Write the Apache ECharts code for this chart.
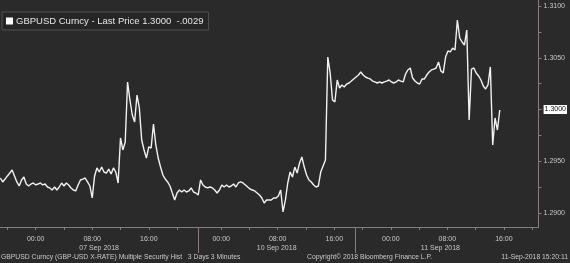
<!DOCTYPE html>
<html><head><meta charset="utf-8">
<script src="https://cdn.jsdelivr.net/npm/echarts@6/dist/echarts.min.js"></script>
<style>html,body{margin:0;padding:0;background:#2a2a2a;}#c{width:570px;height:263px;}</style>
</head><body><div id="c"></div>
<script>
// Compressed trading-hours timeline: 0 = 07 Sep 2018 00:00 (weekend removed)
const startHour = -5;          // 06 Sep 19:00
const stepHours = 1 / 3;       // one value per 20 minutes
const prices = [
1.29338,1.29300,1.29328,1.29358,1.29386,1.29415,1.29358,1.29300,1.29261,1.29319,
1.29348,1.29280,1.29261,1.29280,1.29290,1.29271,1.29280,1.29290,1.29271,1.29280,
1.29251,1.29242,1.29222,1.29251,1.29222,1.29251,1.29290,1.29261,1.29290,1.29271,
1.29242,1.29222,1.29213,1.29271,1.29319,1.29328,1.29338,1.29300,1.29261,1.29145,
1.29358,1.29435,1.29396,1.29444,1.29396,1.29386,1.29425,1.29377,1.29435,1.29396,
1.29290,1.29725,1.29609,1.29686,1.30266,1.30092,1.29947,1.29879,1.30140,1.30015,
1.29705,1.29609,1.29531,1.29638,1.29628,1.29860,1.29657,1.29531,1.29444,1.29367,
1.29328,1.29300,1.29261,1.29193,1.29126,1.29193,1.29222,1.29203,1.29222,1.29203,
1.29213,1.29242,1.29203,1.29193,1.29174,1.29319,1.29271,1.29251,1.29242,1.29251,
1.29242,1.29222,1.29193,1.29222,1.29271,1.29251,1.29271,1.29251,1.29261,1.29280,
1.29251,1.29290,1.29300,1.29290,1.29271,1.29251,1.29232,1.29222,1.29213,1.29193,
1.29174,1.29145,1.29097,1.29126,1.29126,1.29126,1.29145,1.29145,1.29164,1.29222,
1.29010,1.29126,1.29290,1.29396,1.29348,1.29444,1.29386,1.29483,1.29541,1.29444,
1.29367,1.29319,1.29300,1.29271,1.29251,1.29261,1.29396,1.29454,1.29512,1.30507,
1.30353,1.30092,1.30072,1.30285,1.30208,1.30237,1.30217,1.30246,1.30256,1.30275,
1.30295,1.30314,1.30333,1.30362,1.30333,1.30314,1.30304,1.30295,1.30275,1.30266,
1.30256,1.30266,1.30256,1.30266,1.30275,1.30285,1.30266,1.30256,1.30266,1.30285,
1.30275,1.30266,1.30343,1.30382,1.30401,1.30304,1.30275,1.30256,1.30246,1.30295,
1.30295,1.30333,1.30362,1.30382,1.30391,1.30401,1.30459,1.30372,1.30353,1.30507,
1.30565,1.30556,1.30594,1.30575,1.30865,1.30691,1.30652,1.30623,1.30768,1.29899,
1.30391,1.30401,1.30353,1.30324,1.30285,1.30227,1.30198,1.30237,1.30411,1.29657,
1.29918,1.29802,1.29995
];
const seriesName = 'GBPUSD Curncy - Last Price 1.3000  -.0029';
const lastPrice = 1.3000;
const timeTicks = [-4, 0, 4, 8, 12, 16, 20, 26.25, 30.25, 34.25, 38.25, 42.25, 46.25, 50.25, 54.25, 58.25, 62.25, 66.25, 70.25];
const timeLabelVals = [0, 8, 16, 26.25, 34.25, 42.25, 50.25, 58.25, 66.25];
const timeLabels = ['00:00', '08:00', '16:00', '00:00', '08:00', '16:00', '00:00', '08:00', '16:00'];
const dayCenters = [8.98, 34.1, 57.26];
const dayLabels = ['07 Sep 2018', '10 Sep 2018', '11 Sep 2018'];
const daySeparators = [23, 45.25];
const priceTicks = [1.29, 1.2925, 1.295, 1.2975, 1.30, 1.3025, 1.305, 1.3075, 1.31];
const priceLabels = [1.29, 1.295, 1.30, 1.305, 1.31];
const footerLeft = 'GBPUSD Curncy (GBP-USD X-RATE) Multiple Security Hist   3 Days 3 Minutes';
const footerMid = 'Copyright\u00a9 2018 Bloomberg Finance L.P.';
const footerRight = '11-Sep-2018 15:20:11';

const xMin = -5.05, xMax = 71.16;
const axisColor = '#8a7c7c';
const labelColor = '#c8c8c8';
const font = 'Liberation Sans';

const chart = echarts.init(document.getElementById('c'), null, {renderer: 'canvas'});
const baseX = {type: 'value', min: xMin, max: xMax, gridIndex: 0, splitLine: {show: false}};
chart.setOption({
  animation: false,
  backgroundColor: '#2a2a2a',
  grid: {left: 0, right: 27, top: 0, bottom: 36},
  legend: {
    data: [{name: seriesName, icon: 'rect'}],
    left: 2, top: 12, itemWidth: 7, itemHeight: 7, itemGap: 3,
    padding: [4, 5, 4, 4],
    backgroundColor: '#262626', borderColor: '#505050', borderWidth: 1,
    textStyle: {color: '#e6e6e6', fontSize: 9.5, fontFamily: font, padding: [0, 0, 0, -2]}
  },
  xAxis: [
    Object.assign({}, baseX, {
      position: 'bottom',
      axisLine: {show: true, onZero: false, lineStyle: {color: axisColor, width: 1}},
      axisTick: {show: true, length: 3, customValues: timeTicks, lineStyle: {color: axisColor}},
      axisLabel: {show: true, customValues: timeLabelVals, margin: 9, color: labelColor, fontSize: 7, fontFamily: font,
        formatter: v => { const i = timeLabelVals.findIndex(t => Math.abs(t - v) < 1e-6); return i >= 0 ? timeLabels[i] : ''; }}
    }),
    Object.assign({}, baseX, {
      position: 'bottom',
      axisLine: {show: false, onZero: false}, axisTick: {show: false},
      axisLabel: {show: true, customValues: dayCenters, margin: 18, color: labelColor, fontSize: 7, fontFamily: font,
        formatter: v => { const i = dayCenters.findIndex(t => Math.abs(t - v) < 1e-6); return i >= 0 ? dayLabels[i] : ''; }}
    }),
    Object.assign({}, baseX, {
      position: 'bottom',
      axisLine: {show: false, onZero: false},
      axisTick: {show: true, length: 26, customValues: daySeparators, lineStyle: {color: axisColor}},
      axisLabel: {show: false}
    })
  ],
  yAxis: {
    type: 'value', position: 'right', min: 1.288647, max: 1.310580,
    splitLine: {show: false},
    axisLine: {show: true, onZero: false, lineStyle: {color: axisColor, width: 1}},
    axisTick: {show: true, length: 3, customValues: priceTicks, lineStyle: {color: axisColor}},
    axisLabel: {show: true, customValues: priceLabels, margin: 5, color: labelColor, fontSize: 7, fontFamily: font,
      formatter: v => Math.abs(v - lastPrice) < 1e-7 ? '{hl|' + v.toFixed(4) + '}' : v.toFixed(4),
      rich: {hl: {backgroundColor: '#ffffff', color: '#111111', fontSize: 7, fontFamily: font, padding: [1, 1, 1, 1]}}}
  },
  series: [{
    name: seriesName, type: 'line', showSymbol: false, symbol: 'none',
    itemStyle: {color: '#ffffff'},
    lineStyle: {color: '#f2f2f2', width: 1.4},
    data: prices.map((p, i) => [startHour + i * stepHours, p])
  }],
  graphic: [
    {type: 'text', left: 1, top: 254, style: {text: footerLeft, fill: labelColor, font: '6.8px ' + font}},
    {type: 'text', left: 307, top: 254, style: {text: footerMid, fill: labelColor, font: '6.8px ' + font}},
    {type: 'text', right: 2, top: 254, style: {text: footerRight, fill: labelColor, font: '6.8px ' + font}}
  ]
});
</script></body></html>
